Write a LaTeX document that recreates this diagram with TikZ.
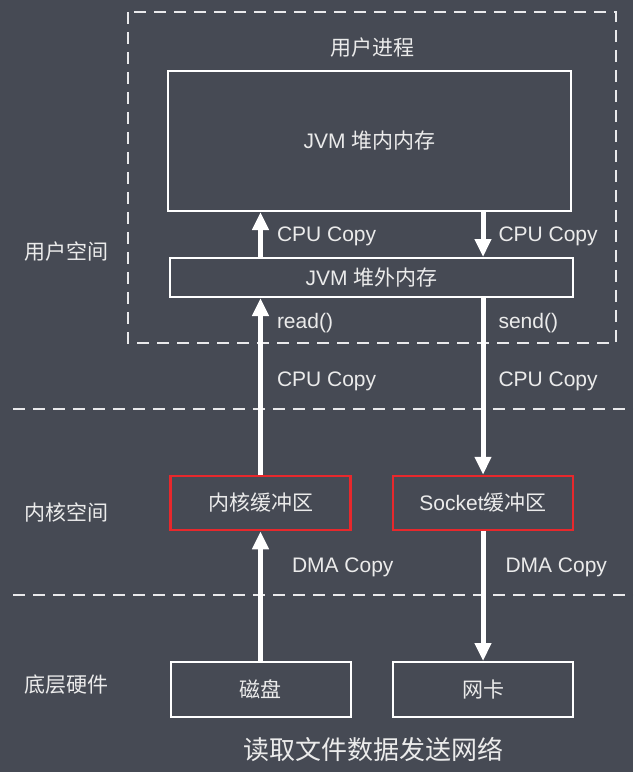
\documentclass[tikz,border=0pt]{standalone}
\usepackage{fontspec}
\setmainfont{Liberation Sans}
\newfontfamily\cjk{Noto Sans CJK SC}
\usetikzlibrary{arrows.meta}
\definecolor{bgcol}{RGB}{70,74,84}
\definecolor{txtcol}{RGB}{235,235,235}
\definecolor{bufred}{RGB}{232,40,44}

\begin{document}
\begin{tikzpicture}[x=1pt,y=-1pt,>={Triangle[width=16pt,length=18pt]},
		font=\fontsize{21}{25}\selectfont,text=txtcol,
		mem box/.style={draw=white,line width=2pt,minimum width=403pt,inner sep=0pt},
		buf box/.style={draw=bufred,line width=2.5pt,minimum width=180pt,minimum height=54pt,inner sep=0pt},
		hw box/.style={draw=white,line width=2pt,minimum width=180pt,minimum height=55pt,inner sep=0pt},
		flow/.style={->,white,line width=5pt},
		lbl/.style={text=txtcol,inner sep=0pt,anchor=west},
		sep line/.style={white!88!bgcol,line width=2.5pt,dash pattern=on 12pt off 8pt}]
		% 背景
		\fill[bgcol] (0,0) rectangle (633,772);
		\useasboundingbox (0,0) rectangle (633,772);
		% 分隔线
		\draw[sep line] (128,12) rectangle (616,343);
		\draw[sep line] (13,409) -- (633,409);
		\draw[sep line] (13,595) -- (633,595);
		% 左侧分区
		\node (us) at (66,252) {\cjk 用户空间};
		\node (ks) at (66,512) {\cjk 内核空间};
		\node (hw) at (66,685) {\cjk 底层硬件};
		% 内存与缓冲区
		\node (proc) at (372,48) {\cjk 用户进程};
		\node[mem box,minimum height=140pt] (heapin) at (369.5,141) {JVM {\cjk 堆内内存}};
		\node[mem box,minimum height=39pt] (heapout) at (371.5,277.5) {JVM {\cjk 堆外内存}};
		\node[buf box] (kbuf) at (260.5,503) {\cjk 内核缓冲区};
		\node[buf box] (sbuf) at (483,503) {Socket{\cjk 缓冲区}};
		\node[hw box] (disk) at (260.5,689.5) {\cjk 磁盘};
		\node[hw box] (nic) at (483,689.5) {\cjk 网卡};
		\node (title) at (373,750) {\fontsize{26}{31}\selectfont\cjk 读取文件数据发送网络};
		% 数据流
		\path[flow]
		(disk) edge node[lbl,pos=0.72,xshift=29pt] {DMA Copy} (kbuf)
		(kbuf) edge node[lbl,pos=0.86,xshift=14pt] {read()} node[lbl,pos=0.53,xshift=14pt] {CPU Copy} (kbuf |- heapout.south)
		(heapout.north -| kbuf) edge node[lbl,pos=0.45,xshift=14pt] {CPU Copy} (heapin.south -| kbuf)
		(heapin.south -| sbuf) edge node[lbl,pos=0.55,xshift=13pt] {CPU Copy} (heapout.north -| sbuf)
		(sbuf |- heapout.south) edge node[lbl,pos=0.14,xshift=13pt] {send()} node[lbl,pos=0.47,xshift=13pt] {CPU Copy} (sbuf)
		(sbuf) edge node[lbl,pos=0.28,xshift=20pt] {DMA Copy} (nic);
\end{tikzpicture}
\end{document}
